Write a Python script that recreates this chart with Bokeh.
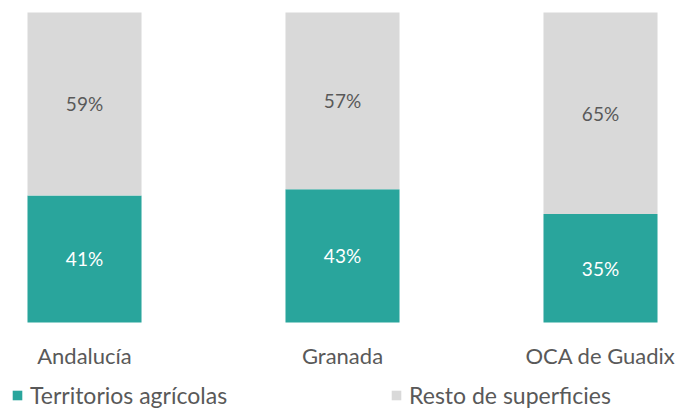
from bokeh.plotting import figure
from bokeh.models import ColumnDataSource, Range1d, LabelSet, Legend, LegendItem
from bokeh.core.properties import value
from bokeh.embed import file_html
from bokeh.resources import INLINE

categories = ["Andalucía", "Granada", "OCA de Guadix"]
agricola = [41, 43, 35]
resto = [59, 57, 65]
series_names = ["Territorios agrícolas", "Resto de superficies"]

TEAL = "#29A59C"
GRAY = "#D9D9D9"
TXT = "#595959"
FONT = "Lato"

xs = list(range(len(categories)))
src = ColumnDataSource(dict(
    x=xs,
    cat=categories,
    base=[0] * len(categories),
    agri=agricola,
    resto=resto,
    agri_mid=[a / 2 for a in agricola],
    resto_mid=[a + r / 2 for a, r in zip(agricola, resto)],
    agri_txt=[f"{a}%" for a in agricola],
    resto_txt=[f"{r}%" for r in resto],
))

p = figure(width=679, height=409, output_backend="svg", toolbar_location=None,
           x_range=Range1d(-0.2946, 2.3062), y_range=Range1d(-28.06, 101.29),
           min_border_left=8, min_border_right=0, min_border_top=8, min_border_bottom=0)

rs = p.vbar_stack(["agri", "resto"], x="x", width=0.442, color=[TEAL, GRAY],
                  line_color=None, source=src)

p.add_layout(LabelSet(x="x", y="agri_mid", text="agri_txt", source=src,
                      text_align="center", text_baseline="middle",
                      text_font=value(FONT), text_font_size=value("19px"), text_color="white"))
p.add_layout(LabelSet(x="x", y="resto_mid", text="resto_txt", source=src,
                      text_align="center", text_baseline="middle",
                      text_font=value(FONT), text_font_size=value("19px"), text_color=TXT))
# category labels under the bars
p.add_layout(LabelSet(x="x", y="base", text="cat", source=src, y_offset=-41,
                      text_align="center", text_baseline="alphabetic",
                      text_font=value(FONT), text_font_size=value("22px"), text_color=TXT))

p.xaxis.visible = False
p.yaxis.visible = False
p.xgrid.visible = False
p.ygrid.visible = False
p.outline_line_color = None

legend = Legend(items=[LegendItem(label=n, renderers=[r]) for n, r in zip(series_names, rs)],
                orientation="horizontal", location=(3, 0), padding=0, margin=0,
                spacing=163, glyph_width=12, glyph_height=12, label_standoff=7,
                label_text_font=FONT, label_text_font_size="23px", label_text_color=TXT,
                border_line_color=None, background_fill_alpha=0)
p.add_layout(legend, "center")

open("out.html", "w").write(file_html(p, INLINE))
